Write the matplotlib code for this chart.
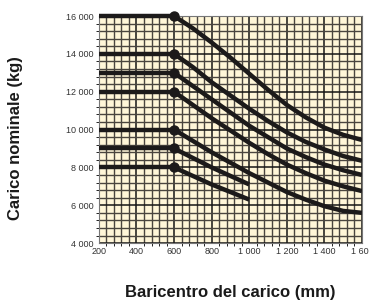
import matplotlib.pyplot as plt
from matplotlib.ticker import MultipleLocator, FuncFormatter

# baricentro (mm) e carico nominale (kg)
x_flat = [200, 600]
x_long = [600, 700, 800, 900, 1000, 1100, 1200, 1300, 1400, 1500, 1600]
x_short = [600, 700, 800, 900, 1000]

c16000 = [16000, 15350, 14600, 13800, 12950, 12100, 11300, 10650, 10100, 9720, 9450]
c14000 = [14000, 13300, 12500, 11800, 11100, 10450, 9850, 9350, 8950, 8600, 8350]
c13000 = [13000, 12300, 11600, 10900, 10200, 9600, 9000, 8550, 8150, 7850, 7600]
c12000 = [12000, 11300, 10600, 9950, 9300, 8700, 8150, 7700, 7300, 7000, 6750]
c10000 = [10000, 9400, 8800, 8250, 7700, 7200, 6700, 6300, 5950, 5700, 5600]
c9000 = [9000, 8500, 8000, 7550, 7100]
c8000 = [8000, 7550, 7100, 6700, 6300]

curves = [(x_long, c16000), (x_long, c14000), (x_long, c13000), (x_long, c12000),
          (x_long, c10000), (x_short, c9000), (x_short, c8000)]

fig = plt.figure(figsize=(3.69, 3.02), dpi=100)
ax = fig.add_axes([0.268, 0.195, 0.713, 0.752])
ax.set_facecolor('#fff6d8')

ax.set_xlim(200, 1600)
ax.set_ylim(4000, 16000)
ax.xaxis.set_major_locator(MultipleLocator(200))
ax.xaxis.set_minor_locator(MultipleLocator(40))
ax.yaxis.set_major_locator(MultipleLocator(2000))
ax.yaxis.set_minor_locator(MultipleLocator(400))
ax.grid(which='minor', color='#4a453f', linewidth=1.0)
ax.grid(which='major', color='#151515', linewidth=1.1)
ax.set_axisbelow(True)

for xs, ys in curves:
    ax.plot(x_flat, [ys[0], ys[0]], color='#1c1a1a', linewidth=3.2,
            solid_capstyle='butt', zorder=3, clip_on=False)
    ax.plot(xs, ys, color='#1c1a1a', linewidth=3.2, solid_capstyle='butt', zorder=3)
    ax.plot(600, ys[0], 'o', color='#1c1a1a', markersize=6.5, zorder=4, clip_on=False)

fmt = FuncFormatter(lambda v, p: '{:,}'.format(int(v)).replace(',', ' '))
ax.xaxis.set_major_formatter(fmt)
ax.yaxis.set_major_formatter(fmt)
ax.tick_params(length=0, labelsize=6.5, colors='#333333')
ax.tick_params(axis='x', pad=3)
ax.tick_params(axis='y', pad=4)
for lab in ax.get_xticklabels() + ax.get_yticklabels():
    lab.set_family(['Liberation Sans Narrow', 'Liberation Sans'])
for s in ax.spines.values():
    s.set_color('#777777')
    s.set_linewidth(0.8)

fig.text(0.041, 0.543, 'Carico nominale (kg)', rotation=90, ha='center', va='center',
         fontsize=12, fontweight='bold', family='Liberation Sans', color='#1a1a1a')
fig.text(0.623, 0.033, 'Baricentro del carico (mm)', ha='center', va='center',
         fontsize=12, fontweight='bold', family='Liberation Sans', color='#1a1a1a')

fig.savefig('out.png', dpi=100)
